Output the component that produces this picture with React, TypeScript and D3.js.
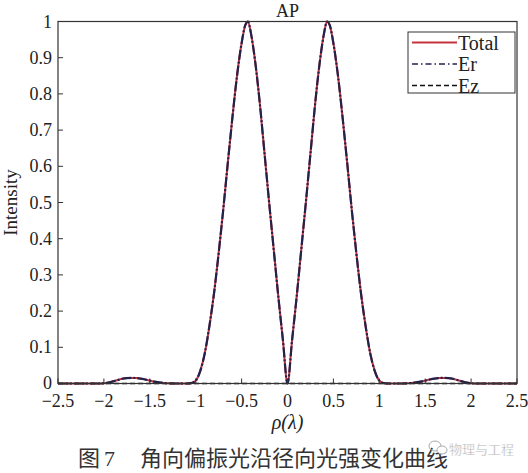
import React from "react";
import * as d3 from "d3";

// ---- data ----
const rho = [
  -2.5, -2.4, -2.3, -2.2, -2.1, -2.05, -2.0, -1.95, -1.9, -1.85, -1.8, -1.75, -1.7, -1.65, -1.6, -1.55, -1.5, -1.45,
  -1.4, -1.35, -1.3, -1.2, -1.1, -1.05, -1.0, -0.95, -0.9, -0.85, -0.8, -0.75, -0.7, -0.65, -0.6, -0.55, -0.5, -0.46,
  -0.43, -0.4, -0.35, -0.3, -0.25, -0.2, -0.15, -0.1, -0.05,
  0,
  0.05, 0.1, 0.15, 0.2, 0.25, 0.3, 0.35, 0.4, 0.43, 0.46, 0.5, 0.55, 0.6, 0.65, 0.7, 0.75, 0.8, 0.85, 0.9, 0.95, 1.0,
  1.05, 1.1, 1.2, 1.3, 1.35, 1.4, 1.45, 1.5, 1.55, 1.6, 1.65, 1.7, 1.75, 1.8, 1.85, 1.9, 1.95, 2.0, 2.05, 2.1, 2.2,
  2.3, 2.4, 2.5,
];

const totalValues = [
  0, 0, 0, 0, 0, 0, 0.0005, 0.0025, 0.006, 0.0095, 0.013, 0.015, 0.0155, 0.015, 0.0135, 0.011, 0.008, 0.005,
  0.003, 0.0015, 0.0005, 0, 0, 0.001, 0.008, 0.035, 0.085, 0.16, 0.25, 0.36, 0.48, 0.61, 0.735, 0.85, 0.94, 0.99,
  1.0, 0.97, 0.885, 0.77, 0.635, 0.5, 0.37, 0.24, 0.12,
  0,
  0.12, 0.24, 0.37, 0.5, 0.635, 0.77, 0.885, 0.97, 1.0, 0.99, 0.94, 0.85, 0.735, 0.61, 0.48, 0.36, 0.25, 0.16, 0.085,
  0.035, 0.008, 0.001, 0, 0, 0.0005, 0.0015, 0.003, 0.005, 0.008, 0.011, 0.0135, 0.015, 0.0155, 0.015, 0.013, 0.0095,
  0.006, 0.0025, 0.0005, 0, 0, 0, 0, 0, 0,
];

const erValues = [
  0, 0, 0, 0, 0, 0, 0.0005, 0.0025, 0.006, 0.0095, 0.013, 0.015, 0.0155, 0.015, 0.0135, 0.011, 0.008, 0.005,
  0.003, 0.0015, 0.0005, 0, 0, 0.001, 0.008, 0.035, 0.085, 0.16, 0.25, 0.36, 0.48, 0.61, 0.735, 0.85, 0.94, 0.99,
  1.0, 0.97, 0.885, 0.77, 0.635, 0.5, 0.37, 0.24, 0.12,
  0,
  0.12, 0.24, 0.37, 0.5, 0.635, 0.77, 0.885, 0.97, 1.0, 0.99, 0.94, 0.85, 0.735, 0.61, 0.48, 0.36, 0.25, 0.16, 0.085,
  0.035, 0.008, 0.001, 0, 0, 0.0005, 0.0015, 0.003, 0.005, 0.008, 0.011, 0.0135, 0.015, 0.0155, 0.015, 0.013, 0.0095,
  0.006, 0.0025, 0.0005, 0, 0, 0, 0, 0, 0,
];

const ezRho = [-2.5, 2.5];
const ezValues = [0, 0];

const xTicks = [-2.5, -2, -1.5, -1, -0.5, 0, 0.5, 1, 1.5, 2, 2.5];
const yTicks = [0, 0.1, 0.2, 0.3, 0.4, 0.5, 0.6, 0.7, 0.8, 0.9, 1];
const legendLabels = ["Total", "Er", "Ez"];

const W = 528;
const H = 473;
const L = 58;
const R = 517;
const T = 21.5;
const B = 383.5;

const serif = "'Liberation Serif', 'Times New Roman', serif";
const cjk = "'Noto Sans CJK SC', sans-serif";

const fmt = (v: number) => (v < 0 ? "\u2212" + String(-v) : String(v));

export default function App() {
  const x = d3.scaleLinear().domain([-2.5, 2.5]).range([L, R]);
  const y = d3.scaleLinear().domain([0, 1]).range([B, T]);

  const line = d3
    .line<[number, number]>()
    .x((d) => x(d[0]))
    .y((d) => y(d[1]))
    .curve(d3.curveMonotoneX);

  const totalPath = line(rho.map((r, i) => [r, totalValues[i]] as [number, number])) || "";
  const erPath = line(rho.map((r, i) => [r, erValues[i]] as [number, number])) || "";
  const ezPath = line(ezRho.map((r, i) => [r, ezValues[i]] as [number, number])) || "";

  const styles = [
    { stroke: "#c4343f", dash: "none", width: 2 },
    { stroke: "#23224c", dash: "10,2,2,2", width: 2.2 },
    { stroke: "#111", dash: "5,3", width: 1.6 },
  ];
  const legendDash = ["none", "6,3,1.5,3", "5,3"];

  const legX = 408;
  const legY = 32;
  const legW = 107;
  const legH = 61;

  return (
    <svg
      width={W}
      height={H}
      style={{ position: "absolute", left: 0, top: 0, background: "#fff" }}
      xmlns="http://www.w3.org/2000/svg"
    >
      <rect x={0} y={0} width={W} height={H} fill="#fff" />
      {/* curves */}
      <g fill="none">
        <path d={totalPath} stroke={styles[0].stroke} strokeWidth={styles[0].width} />
        <path d={erPath} stroke={styles[1].stroke} strokeWidth={styles[1].width} strokeDasharray={styles[1].dash} />
        <path d={ezPath} stroke={styles[2].stroke} strokeWidth={styles[2].width} strokeDasharray={styles[2].dash} />
      </g>
      {/* axes box */}
      <rect x={L} y={T} width={R - L} height={B - T} fill="none" stroke="#333" strokeWidth={1.2} />
      {/* x ticks */}
      {xTicks.map((t) => (
        <g key={"x" + t}>
          <line x1={x(t)} x2={x(t)} y1={B} y2={B - 5} stroke="#333" strokeWidth={1} />
          <text x={x(t)} y={B + 23.5} textAnchor="middle" fontFamily={serif} fontSize={18} fill="#222">
            {fmt(t)}
          </text>
        </g>
      ))}
      {/* y ticks */}
      {yTicks.map((t) => (
        <g key={"y" + t}>
          <line x1={L} x2={L + 5} y1={y(t)} y2={y(t)} stroke="#333" strokeWidth={1} />
          <text x={L - 6} y={y(t) + (t === 0 ? 5 : 6)} textAnchor="end" fontFamily={serif} fontSize={18} fill="#222">
            {fmt(t)}
          </text>
        </g>
      ))}
      {/* title */}
      <text x={(L + R) / 2} y={17} textAnchor="middle" fontFamily={serif} fontSize={18} fill="#222">
        AP
      </text>
      {/* axis labels */}
      <text
        transform={`translate(17, ${(T + B) / 2}) rotate(-90)`}
        textAnchor="middle"
        fontFamily={serif}
        fontSize={19}
        fill="#222"
      >
        Intensity
      </text>
      <text x={(L + R) / 2} y={429} textAnchor="middle" fontFamily={serif} fontSize={20} fontStyle="italic" fill="#222">
        ρ(λ)
      </text>
      {/* legend */}
      <rect x={legX} y={legY} width={legW} height={legH} fill="#fff" stroke="#333" strokeWidth={1} />
      {legendLabels.map((lab, i) => {
        const cy = legY + 10.5 + i * 21.5;
        const s = styles[i];
        return (
          <g key={lab}>
            <line
              x1={legX + 4}
              x2={legX + 49}
              y1={cy}
              y2={cy}
              stroke={s.stroke}
              strokeWidth={i === 0 ? 2 : 1.6}
              strokeDasharray={legendDash[i]}
            />
            <text x={legX + 50} y={cy + 7} fontFamily={serif} fontSize={20} fill="#222">
              {lab}
            </text>
          </g>
        );
      })}
      {/* caption */}
      <text x={78} y={466} fontFamily={cjk} fontSize={22} fill="#333">
        图
      </text>
      <text x={104} y={466} fontFamily={serif} fontSize={22} fill="#333">
        7
      </text>
      <text x={140} y={466} fontFamily={cjk} fontSize={22} fill="#333">
        角向偏振光沿径向光强变化曲线
      </text>
      {/* watermark */}
      <g fill="none" stroke="#aaa" strokeWidth={1}>
        <ellipse cx={435} cy={446} rx={6} ry={5} />
        <ellipse cx={442} cy={450} rx={5} ry={4} fill="#fff" />
      </g>
      <text
        x={449}
        y={454}
        fontFamily={cjk}
        fontSize={13}
        fill="#9a9a9a"
        stroke="#fff"
        strokeWidth={0.4}
      >
        物理与工程
      </text>
    </svg>
  );
}
